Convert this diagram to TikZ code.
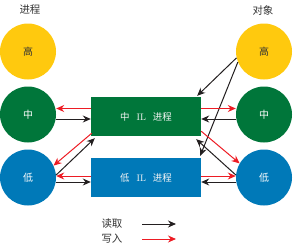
\documentclass[tikz,border=0pt]{standalone}
\usepackage{fontspec}
\newfontfamily\cjk{Noto Sans CJK SC}
\usetikzlibrary{arrows.meta,calc}
\definecolor{hiyellow}{HTML}{FFC90E}
\definecolor{midgreen}{HTML}{00763A}
\definecolor{lowblue}{HTML}{0079B8}
\definecolor{wred}{HTML}{ED1C24}
\definecolor{rblack}{HTML}{231F20}

\begin{document}
\begin{tikzpicture}[x=1bp,y=-1bp,
  lvl/.style={circle,minimum size=56bp,inner sep=0pt,font=\cjk\fontsize{10}{10}\selectfont},
  ilbox/.style={rectangle,minimum width=110bp,minimum height=39bp,inner sep=0pt,text=white!92!gray,font=\fontsize{9.5}{9.5}\selectfont},
  rd/.style={line width=1bp,draw=rblack,-{Stealth[length=8bp,width=7bp]}},
  wr/.style={line width=1bp,draw=wred,-{Stealth[length=8bp,width=7bp]}},
  lbl/.style={font=\cjk\fontsize{10.5}{10.5}\selectfont,text=black!80}]
\useasboundingbox (0,0) rectangle (300,249);
% column titles
\node[lbl] (procs) at (30,10) {进程};
\node[lbl] (objs) at (263,10) {对象};
% process levels
\node[lvl,fill=hiyellow,text=black!80] (phi) at (28,51.5) {高};
\node[lvl,fill=midgreen,text=white] (pmid) at (28,114.5) {中};
\node[lvl,fill=lowblue,text=white] (plow) at (28,177.5) {低};
% object levels
\node[lvl,fill=hiyellow,text=black!80] (ohi) at (264,51.5) {高};
\node[lvl,fill=midgreen,text=white] (omid) at (264,114.5) {中};
\node[lvl,fill=lowblue,text=white] (olow) at (264,177.5) {低};
% IL processes
\node[ilbox,fill=midgreen] (mil) at (146,116.5) {{\cjk 中}\hspace{7bp}IL\hspace{7bp}{\cjk 进程}};
\node[ilbox,fill=lowblue] (lil) at (146,177.5) {{\cjk 低}\hspace{7bp}IL\hspace{7bp}{\cjk 进程}};
% left side
\draw[wr] (mil.west |- 0,108.5) -- (pmid.east |- 0,108.5);
\draw[rd] (pmid.east |- 0,119) -- (mil.west |- 0,119);
\draw[wr] ($(mil.south west)+(1,-3)$) -- (plow.25);
\draw[rd] (plow.5) -- ($(mil.south west)+(4,2)$);
\draw[wr] (lil.west |- 0,176) -- (plow.east |- 0,176);
\draw[rd] (plow.east |- 0,182) -- (lil.west |- 0,182);
% right side
\draw[rd] (ohi.193) -- ($(mil.north east)+(-4,-1)$);
\draw[rd] (ohi.202) -- ($(lil.north east)+(-1,-2)$);
\draw[wr] (mil.east |- 0,108.5) -- (omid.west |- 0,108.5);
\draw[rd] (omid.west |- 0,119) -- (mil.east |- 0,119);
\draw[wr] ($(mil.south east)+(0,-5)$) -- (olow.150);
\draw[rd] (olow.175) -- ($(mil.south east)+(-5,3)$);
\draw[wr] (lil.east |- 0,176) -- (olow.west |- 0,176);
\draw[rd] (olow.west |- 0,182) -- (lil.east |- 0,182);
% legend
\node[lbl] (rdlab) at (112,224) {读取};
\node[lbl] (wrlab) at (112,239) {写入};
\coordinate (rdbeg) at (142,224);
\coordinate (rdend) at (176,224);
\coordinate (wrbeg) at (142,239);
\coordinate (wrend) at (176,239);
\draw[rd] (rdbeg) -- (rdend);
\draw[wr] (wrbeg) -- (wrend);
\end{tikzpicture}
\end{document}
